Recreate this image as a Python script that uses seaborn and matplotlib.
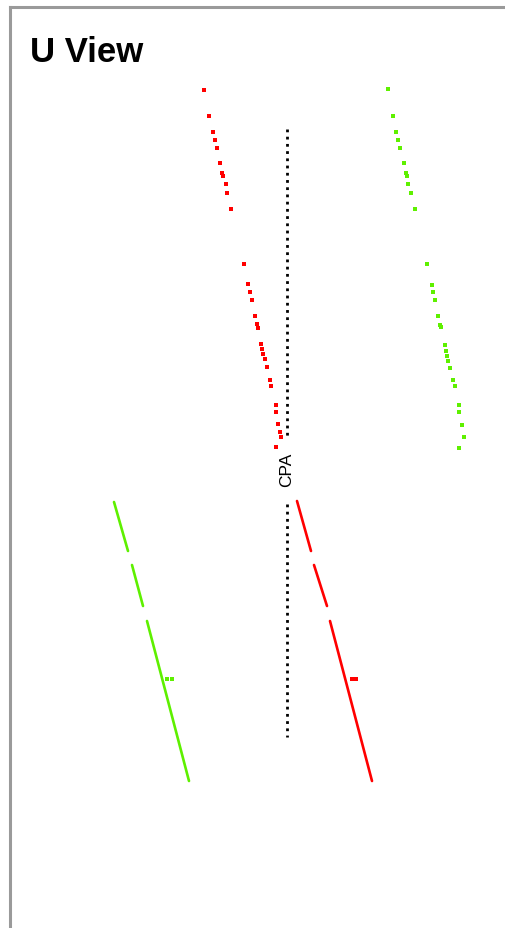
import matplotlib
matplotlib.use("Agg")
import matplotlib.pyplot as plt
import seaborn as sns
import pandas as pd

# hit positions, in display units (wire, drift time)
red_hits_x = [204, 209, 213, 215, 217, 220, 222, 223, 226, 227, 231,
              244, 248, 250, 252, 255, 257, 258, 261, 262, 263, 265, 267, 270, 271,
              276, 276, 278, 280, 281, 276]
red_hits_y = [91, 117, 133, 141, 149, 164, 174, 177, 185, 194, 210,
              265, 285, 293, 301, 317, 325, 329, 345, 350, 355, 360, 368, 381, 387,
              406, 413, 425, 433, 438, 448]
green_hits_x = [388, 393, 396, 398, 400, 404, 406, 407, 408, 411, 415,
                427, 432, 433, 435, 438, 440, 441, 445, 446, 447, 448, 450, 453, 455,
                459, 459, 462, 464, 459]
green_hits_y = [90, 117, 133, 141, 149, 164, 174, 177, 185, 194, 210,
                265, 286, 293, 301, 317, 326, 328, 346, 352, 357, 362, 369, 381, 387,
                406, 413, 426, 438, 449]
# little side hits next to the long tracks
red_side_x = [352, 356]
red_side_y = [680, 680]
green_side_x = [167, 172]
green_side_y = [680, 680]

# long tracks below the CPA, drawn as segments
red_seg_x0 = [297, 314, 330]
red_seg_y0 = [502, 566, 622]
red_seg_x1 = [311, 327, 372]
red_seg_y1 = [552, 607, 782]
green_seg_x0 = [114, 132, 147]
green_seg_y0 = [503, 566, 622]
green_seg_x1 = [128, 143, 189]
green_seg_y1 = [552, 607, 782]

cpa_x = 287
cpa_top = [130, 505]
cpa_bottom = [438, 738]

RED = "#ff0000"
GREEN = "#5ef000"

def segments(x0, y0, x1, y1):
    rows = []
    for i in range(len(x0)):
        rows.append({"seg": i, "x": x0[i], "y": y0[i]})
        rows.append({"seg": i, "x": x1[i], "y": y1[i]})
    return pd.DataFrame(rows)

sns.set_style("white")
plt.rcParams["font.family"] = ["Liberation Sans", "DejaVu Sans"]

fig = plt.figure(figsize=(5.06, 9.29), dpi=100)
ax = fig.add_axes([10 / 506, 0, 500 / 506, 921 / 929])

for hx, hy, c in [(red_hits_x, red_hits_y, RED), (green_hits_x, green_hits_y, GREEN),
                  (red_side_x, red_side_y, RED), (green_side_x, green_side_y, GREEN)]:
    sns.scatterplot(x=hx, y=hy, color=c, marker="s", s=5, linewidth=0, ax=ax)

for df, c in [(segments(red_seg_x0, red_seg_y0, red_seg_x1, red_seg_y1), RED),
              (segments(green_seg_x0, green_seg_y0, green_seg_x1, green_seg_y1), GREEN)]:
    sns.lineplot(data=df, x="x", y="y", units="seg", estimator=None, sort=False,
                 color=c, linewidth=1.9, ax=ax)

for t, b in zip(cpa_top, cpa_bottom):
    ax.plot([cpa_x, cpa_x], [t, b], color="black", linewidth=2.0,
            linestyle=(0, (1, 1.6)), solid_capstyle="butt", dash_capstyle="butt")
ax.text(cpa_x, 470, "CPA", rotation=90, ha="center", va="center", fontsize=12.5,
        color="black")

ax.text(30, 62, "U View", fontsize=25, fontweight="bold", ha="left", va="baseline",
        color="black")

ax.set_xlim(10, 510)
ax.set_ylim(929, 8)
ax.set_xticks([])
ax.set_yticks([])
ax.set_xlabel("")
ax.set_ylabel("")
for side in ["right", "bottom"]:
    ax.spines[side].set_visible(False)
for side in ["left", "top"]:
    ax.spines[side].set_color("#9a9a9a")
    ax.spines[side].set_linewidth(2.2)

fig.savefig("out.png", dpi=100)
